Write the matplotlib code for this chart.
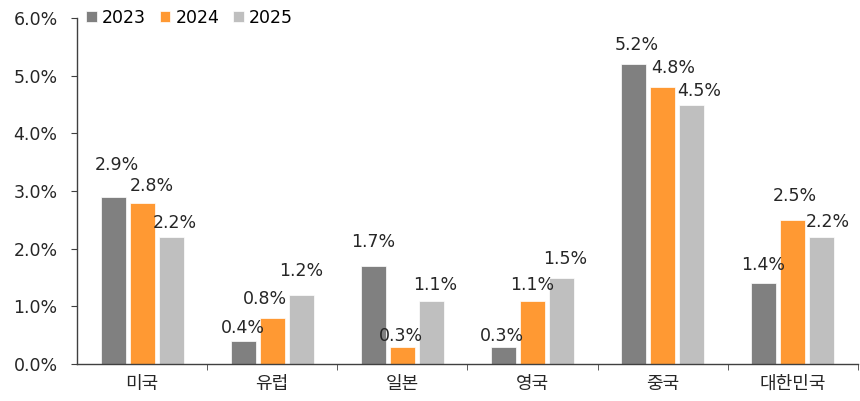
import numpy as np
import matplotlib
matplotlib.use('Agg')
import matplotlib.pyplot as plt

plt.rcParams['font.family'] = ['DejaVu Sans', 'Noto Sans CJK KR']
plt.rcParams['font.size'] = 12.5

# 데이터
categories = ['미국', '유럽', '일본', '영국', '중국', '대한민국']
years = ['2023', '2024', '2025']
v2023 = [2.9, 0.4, 1.7, 0.3, 5.2, 1.4]
v2024 = [2.8, 0.8, 0.3, 1.1, 4.8, 2.5]
v2025 = [2.2, 1.2, 1.1, 1.5, 4.5, 2.2]
colors = ['#808080', '#FF9933', '#BFBFBF']

# 라벨 위치 보정 (픽셀 단위, 막대 상단 중앙 기준)
label_shift = [
    [(4, -32), (0, -13), (0, -24), (-2, -11), (3, -19), (-1, -18)],
    [(10, -17), (-7, -19), (-1, -11), (0, -16), (10, -19), (2, -24)],
    [(4, -14), (0, -24), (4, -16), (4, -19), (7, -14), (6, -15)],
]

x = np.arange(len(categories))
step = 0.223
width = 0.192

fig = plt.figure(figsize=(8.6, 4.01), dpi=100)
ax = fig.add_axes([77 / 860, 37 / 401, 781 / 860, 346 / 401])

for i, (vals, name) in enumerate(zip([v2023, v2024, v2025], years)):
    xs = x + (i - 1) * step
    ax.bar(xs, vals, width, color=colors[i], edgecolor='white', linewidth=0.5, label=name)
    for j, v in enumerate(vals):
        dx, dy = label_shift[i][j]
        ax.annotate(f'{v:.1f}%', (xs[j], v), xytext=(dx, -dy),
                    textcoords='offset pixels', ha='center', va='center',
                    color='#262626')

ax.set_xlim(-0.5, len(categories) - 0.5)
ax.set_ylim(0, 6)
ax.set_yticks(np.arange(0, 6.1, 1))
ax.set_yticklabels([f'{t:.1f}%' for t in np.arange(0, 6.1, 1)])
ax.set_xticks(x)
ax.set_xticklabels(categories, fontsize=13)
ax.set_xticks(np.arange(0.5, len(categories), 1), minor=True)

for s in ['top', 'right']:
    ax.spines[s].set_visible(False)
for s in ['left', 'bottom']:
    ax.spines[s].set_color('#404040')
    ax.spines[s].set_linewidth(1.0)

ax.tick_params(axis='y', length=4, pad=10, colors='#404040', labelcolor='#262626')
ax.tick_params(axis='x', which='major', length=0, pad=8, labelcolor='#262626')
ax.tick_params(axis='x', which='minor', length=4, color='#404040')

ax.legend(loc='center left', bbox_to_anchor=(0.012, 1.0), ncol=3, frameon=False,
          handlelength=0.6, handleheight=0.6, handletextpad=0.3,
          columnspacing=0.8, borderpad=0, borderaxespad=0)

fig.savefig('out.png', dpi=100)
